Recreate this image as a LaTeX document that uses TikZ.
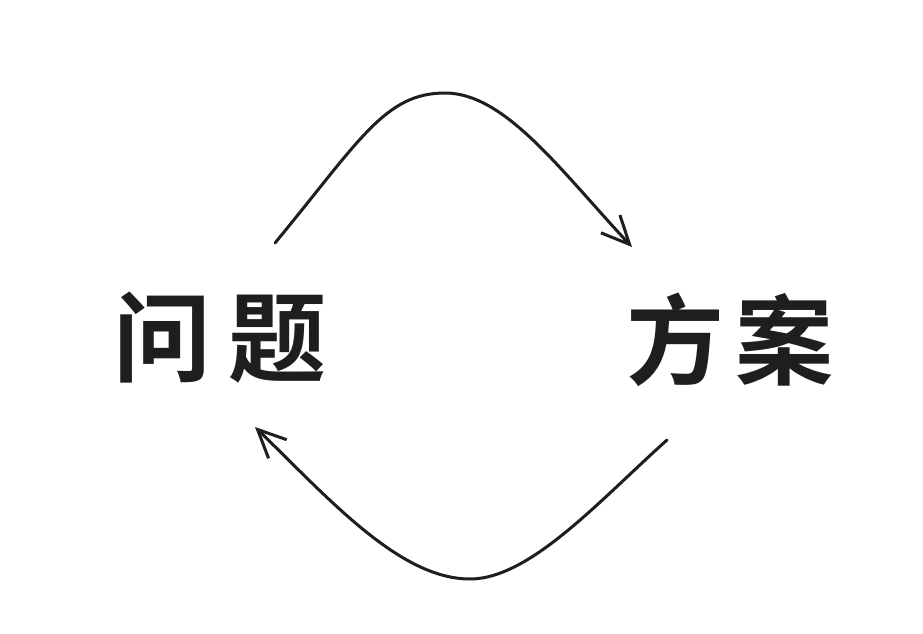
\documentclass[tikz,border=0pt]{standalone}
\usepackage{fontspec}
\newfontfamily\cjk{Noto Sans CJK SC Bold}
\usetikzlibrary{arrows.meta}
\definecolor{ink}{HTML}{1E1E1E}
\tikzset{
  label/.style={text=ink, font=\cjk\fontsize{98}{98}\selectfont, inner sep=0pt},
  flow/.style={draw=ink, line width=3pt, line cap=round, line join=round,
    -{Straight Barb[length=28pt,width=26pt,line width=3pt]}}
}
\begin{document}
\begin{tikzpicture}[x=1pt,y=-1pt]
\useasboundingbox[fill=white] (0,0) rectangle (923,634);
\node[label] (wt) at (220,338) {问\hspace{18pt}题};
\node[label] (fa) at (730,340) {方\hspace{12pt}案};
\coordinate (t1) at (275,243);
\coordinate (t2) at (632,247);
\coordinate (b1) at (667,440);
\coordinate (b2) at (255,427);
\draw[flow] (t1) .. controls (360,140) and (385,93) .. (445,93)
  .. controls (505,93) and (560,170) .. (t2);
\draw[flow] (b1) .. controls (600,500) and (530,579) .. (470,579)
  .. controls (400,579) and (330,500) .. (b2);
\end{tikzpicture}
\end{document}
